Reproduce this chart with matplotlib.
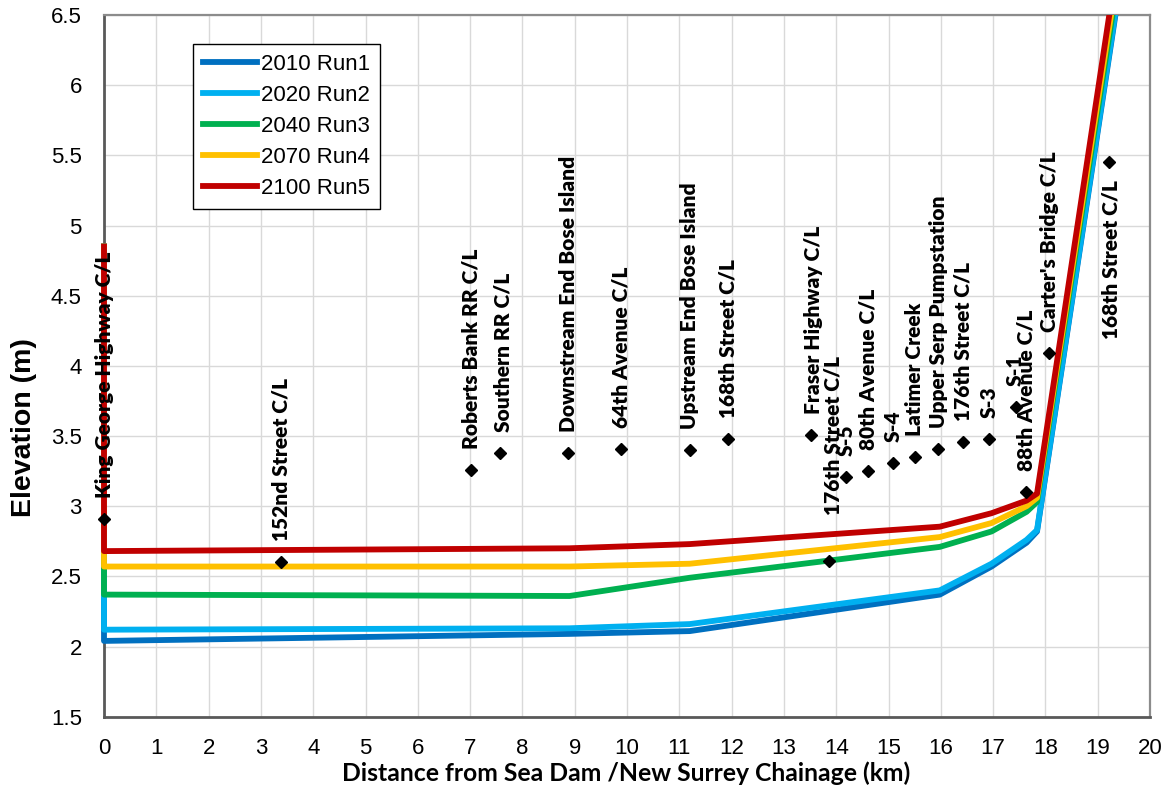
import matplotlib
matplotlib.use('Agg')
from matplotlib import pyplot as plt
from matplotlib.patches import Rectangle

# chainage of profile breakpoints (km)
dist = [0, 0, 8.9, 11.2, 15.98, 16.97, 17.64, 17.84, 19.4]

run1 = [4.85, 2.04, 2.09, 2.11, 2.37, 2.57, 2.74, 2.82, 6.65]
run2 = [4.85, 2.12, 2.13, 2.16, 2.40, 2.59, 2.76, 2.83, 6.67]
run3 = [4.85, 2.37, 2.36, 2.49, 2.71, 2.82, 2.96, 3.03, 6.78]
run4 = [4.85, 2.57, 2.57, 2.59, 2.78, 2.88, 3.00, 3.06, 6.85]
run5 = [4.85, 2.68, 2.70, 2.73, 2.854, 2.95, 3.04, 3.09, 6.94]

run_names = ["2010 Run1", "2020 Run2", "2040 Run3", "2070 Run4", "2100 Run5"]
run_colors = ["#0070C0", "#00B0F0", "#00B050", "#FFC000", "#C00000"]

# landmarks along the channel
mark_names = ["King George Highway C/L", "152nd Street C/L", "Roberts Bank RR C/L",
              "Southern RR C/L", "Downstream End Bose Island", "64th Avenue C/L",
              "Upstream End Bose Island", "168th Street C/L", "Fraser Highway C/L",
              "176th Street C/L", "S-5", "80th Avenue C/L", "S-4", "Latimer Creek",
              "Upper Serp Pumpstation", "176th Street C/L", "S-3", "S-1",
              "88th Avenue C/L", "Carter's Bridge C/L", "168th Street C/L"]
mark_x = [0.0, 3.38, 7.02, 7.57, 8.88, 9.89, 11.2, 11.94, 13.52, 13.87, 14.19, 14.6,
          15.09, 15.5, 15.95, 16.42, 16.93, 17.43, 17.63, 18.07, 19.22]
mark_y = [2.91, 2.60, 3.26, 3.38, 3.38, 3.41, 3.40, 3.48, 3.51, 2.61, 3.21, 3.25,
          3.31, 3.35, 3.41, 3.46, 3.48, 3.71, 3.10, 4.09, 5.45]

fig = plt.figure(figsize=(11.68, 7.9), dpi=100)
ax = fig.add_axes([104 / 1168, 1 - 716.7 / 790, (1150 - 104) / 1168, (716.7 - 15) / 790])

all_runs = [run1, run2, run3, run4, run5]
lines = []
for vals, name, col in zip(all_runs, run_names, run_colors):
    ln, = ax.plot(dist, vals, color=col, lw=4.2, label=name, zorder=3)
    clip = Rectangle((-0.01, 0), 1.02, 1, transform=ax.transAxes)
    ln.set_clip_path(clip)
    lines.append(ln)

ax.plot(mark_x, mark_y, 'D', color='black', ms=6, zorder=4, clip_on=False)

# label placement tweaks (pixels)
offsets = {3: (3, 21), 8: (2, 21), 9: (4, 46), 20: (2, -18)}
for i, (name, x, y) in enumerate(zip(mark_names, mark_x, mark_y)):
    dx, dy = offsets.get(i, (0, 21))
    ax.annotate(name, (x, y), xytext=(dx, dy), textcoords='offset pixels',
                rotation=90, ha='center', va='bottom' if dy > 0 else 'top',
                fontsize=15, fontweight='heavy', family='Lato', zorder=5)

ax.set_xlim(0, 20)
ax.set_ylim(1.5, 6.5)
ax.set_xticks(range(21))
ax.set_xticklabels([str(v) for v in range(21)])
yt = [1.5 + 0.5 * k for k in range(11)]
ax.set_yticks(yt)
ax.set_yticklabels(['%g' % v for v in yt])
ax.tick_params(length=0, labelsize=16)
ax.tick_params(axis='y', pad=16)
ax.tick_params(axis='x', pad=15)
for lab in ax.get_xticklabels() + ax.get_yticklabels():
    lab.set_family('Liberation Sans')

ax.grid(True, color='#D9D9D9', lw=1)
ax.set_axisbelow(True)
for s in ['left', 'bottom']:
    ax.spines[s].set_color('#595959')
    ax.spines[s].set_linewidth(2)
for s in ['top', 'right']:
    ax.spines[s].set_color('#8C8C8C')
    ax.spines[s].set_linewidth(1.6)

fig.text(24 / 1168, 1 - 428 / 790, "Elevation (m)", rotation=90, ha='center', va='center',
         fontsize=20.5, fontweight='bold', family='Liberation Sans')
fig.text(626.5 / 1168, 1 - 773 / 790, "Distance from Sea Dam /New Surrey Chainage (km)",
         ha='center', va='center', fontsize=17.8, fontweight='bold', family='Lato')

leg = ax.legend(handles=lines, loc='upper left', bbox_to_anchor=(193 / 1168, 1 - 44 / 790),
                bbox_transform=fig.transFigure, fancybox=False, edgecolor='black',
                framealpha=1, borderaxespad=0, handlelength=2.45, handletextpad=0.15,
                labelspacing=0.45, borderpad=0.45, prop={'family': 'Liberation Sans', 'size': 16})
leg.get_frame().set_linewidth(1)
leg.set_zorder(6)

fig.savefig('out.png', dpi=100)
